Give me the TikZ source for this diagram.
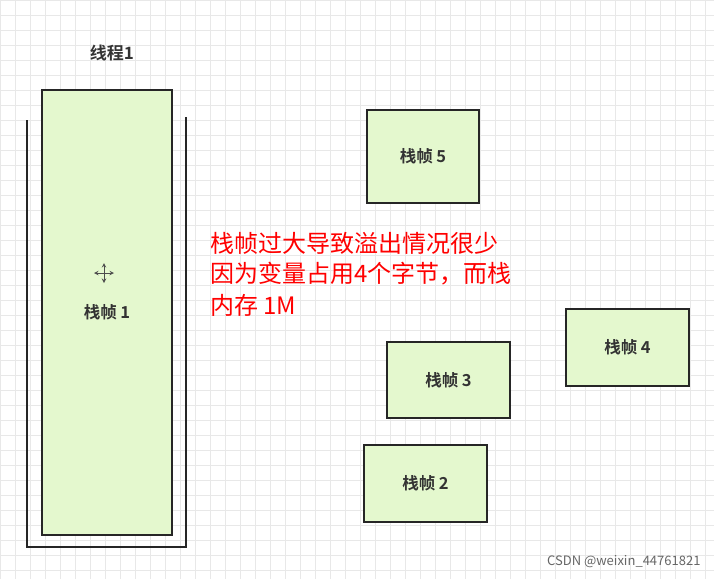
\documentclass[tikz,border=0pt]{standalone}
\usepackage{fontspec}
\setmainfont{Noto Sans CJK SC}
\newfontfamily\cjkb{Noto Sans CJK SC Bold}
\begin{document}
\begin{tikzpicture}[x=1pt,y=-1pt,
  frame/.style={draw=black!85,line width=1.2pt,fill={rgb,255:red,228;green,248;blue,206},font=\cjkb\fontsize{16.5}{19}\selectfont,text=black!80},
  redtxt/.style={anchor=west,text=red,font=\fontsize{24}{28}\selectfont,inner sep=0pt}]
\useasboundingbox (0,0) rectangle (714,579);
\fill[white] (0,0) rectangle (714,579);
\foreach \i in {0,15,...,714} \draw[black!9,line width=0.4pt] (\i,0) -- (\i,579);
\foreach \i in {0,15,...,579} \draw[black!9,line width=0.4pt] (0,\i) -- (714,\i);
\node[font=\cjkb\fontsize{17}{20}\selectfont,text=black!80] (title) at (112,53) {线程1};
\draw[black!85,line width=1.2pt] (27,120) -- (27,547) -- (186,547) -- (186,117);
\node[frame,minimum width=130,minimum height=445] (f1) at (107,312.5) {栈帧 1};
\node[frame,minimum width=112,minimum height=93] (f5) at (423,156.5) {栈帧 5};
\node[frame,minimum width=123,minimum height=77] (f4) at (627.5,347.5) {栈帧 4};
\node[frame,minimum width=123,minimum height=76] (f3) at (448.5,380) {栈帧 3};
\node[frame,minimum width=123,minimum height=77] (f2) at (425.5,483.5) {栈帧 2};
\node[redtxt] (t1) at (210,243) {栈帧过大导致溢出情况很少};
\node[redtxt] (t2) at (210,274) {因为变量占用4个字节，而栈};
\node[redtxt] (t3) at (210,305) {内存 1M};
\begin{scope}[shift={(104,273)},black!70,line width=1pt,->,>=stealth]
\draw (0,0) -- (0,-10); \draw (0,0) -- (0,10); \draw (0,0) -- (-10,0); \draw (0,0) -- (10,0);
\end{scope}
\node[text=black!60,font=\fontsize{13}{15}\selectfont,anchor=east] (wm) at (704,562) {CSDN @weixin\_44761821};
\end{tikzpicture}
\end{document}
